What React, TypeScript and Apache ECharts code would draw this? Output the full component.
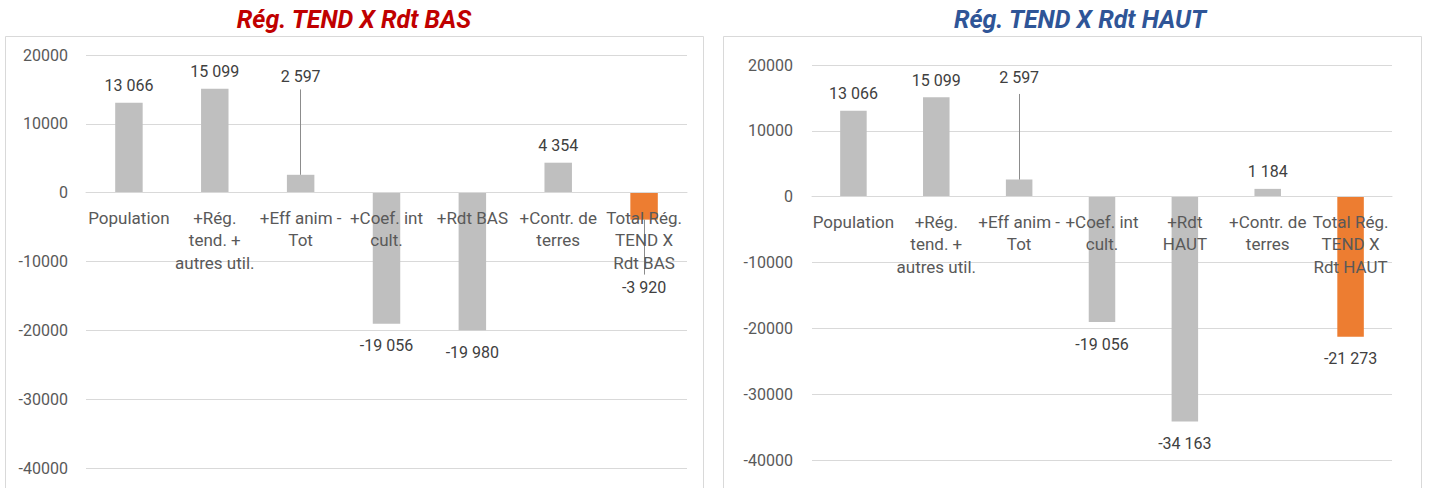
import React, { useEffect, useRef } from 'react';
import * as echarts from 'echarts';

// ---- Data ----
const categoriesLeft = [
  'Population',
  '+Rég.\ntend. +\nautres util.',
  '+Eff anim -\nTot',
  '+Coef. int\ncult.',
  '+Rdt BAS',
  '+Contr. de\nterres',
  'Total Rég.\nTEND X\nRdt BAS',
];
const categoriesRight = [
  'Population',
  '+Rég.\ntend. +\nautres util.',
  '+Eff anim -\nTot',
  '+Coef. int\ncult.',
  '+Rdt\nHAUT',
  '+Contr. de\nterres',
  'Total Rég.\nTEND X\nRdt HAUT',
];
const valuesLeft = [13066, 15099, 2597, -19056, -19980, 4354, -3920];
const valuesRight = [13066, 15099, 2597, -19056, -34163, 1184, -21273];
const titleLeft = 'Rég. TEND X Rdt BAS';
const titleRight = 'Rég. TEND X Rdt HAUT';
const yMin = -40000;
const yMax = 20000;
const yInterval = 10000;

// leader lines (moved labels): [categoryIndex, barValue, lineEndValue]
const leadersLeft = [
  [2, 2597, 15000],
  [6, -3920, -11900],
];
const leadersRight = [[2, 2597, 15600]];

// ---- Styles / layout ----
const GRAY = '#BFBFBF';
const ORANGE = '#ED7D31';
const GRID = '#D9D9D9';
const AXIS_TXT = '#595959';
const VAL_TXT = '#404040';
const FONT = 'Roboto, "DejaVu Sans", sans-serif';
const labelOffsetsLeft = [0, 0, -81, 0, 0, 0, 46];
const labelOffsetsRight = [0, 0, -85, 0, 0, 0, 0];
const gridLeft = { left: 86, top: 55, width: 601, height: 413 };
const gridRight = { left: 812, top: 65, width: 580, height: 395 };

const fmt = (v: number) => {
  const s = Math.abs(v)
    .toString()
    .replace(/\B(?=(\d{3})+(?!\d))/g, ' ');
  return (v < 0 ? '-' : '') + s;
};

// pixel distance from the bottom of the grid up to the value 0
const zeroOffset = (h: number) => -((0 - yMin) / (yMax - yMin)) * h;

function buildData(values: number[], offsets: number[]) {
  return values.map((v, i) => ({
    value: v,
    itemStyle: { color: i === values.length - 1 ? ORANGE : GRAY },
    label: {
      position: v >= 0 ? 'top' : 'bottom',
      distance: v >= 0 ? 9 : 14,
      offset: [0, offsets[i]],
    },
  }));
}

function buildLeaders(list: number[][]) {
  return list.map(([c, v, e]) => [{ coord: [c, v] }, { coord: [c, e] }]);
}

function xAxisCfg(gridIndex: number, data: string[], gridHeight: number) {
  return {
    type: 'category',
    gridIndex,
    data,
    z: 5,
    position: 'bottom',
    offset: zeroOffset(gridHeight),
    axisTick: { show: false },
    axisLine: { onZero: false, lineStyle: { color: GRID, width: 1 } },
    axisLabel: {
      interval: 0,
      color: AXIS_TXT,
      fontSize: 17,
      fontFamily: FONT,
      lineHeight: 22.5,
      margin: 14,
      hideOverlap: false,
    },
  };
}

function yAxisCfg(gridIndex: number, margin: number) {
  return {
    type: 'value',
    gridIndex,
    min: yMin,
    max: yMax,
    interval: yInterval,
    axisLine: { show: false },
    axisTick: { show: false },
    axisLabel: {
      color: AXIS_TXT,
      fontSize: 16,
      fontFamily: FONT,
      margin,
      formatter: (v: number) => String(v),
    },
    splitLine: { lineStyle: { color: GRID, width: 1 } },
  };
}

function seriesCfg(idx: number, values: number[], offsets: number[], leaders: number[][]) {
  return {
    type: 'bar',
    xAxisIndex: idx,
    yAxisIndex: idx,
    barWidth: '32%',
    data: buildData(values, offsets),
    label: {
      show: true,
      color: VAL_TXT,
      fontSize: 16,
      fontFamily: FONT,
      formatter: (p: any) => fmt(p.value),
    },
    markLine: {
      silent: true,
      symbol: 'none',
      label: { show: false },
      lineStyle: { color: '#8C8C8C', width: 1, type: 'solid' },
      data: buildLeaders(leaders),
    },
  };
}

export default function App() {
  const ref = useRef<HTMLDivElement>(null);
  useEffect(() => {
    if (!ref.current) return;
    const chart = echarts.init(ref.current, undefined, { renderer: 'svg' });
    chart.setOption({
      animation: false,
      backgroundColor: '#FFFFFF',
      grid: [
        { ...gridLeft, containLabel: false, outerBoundsMode: 'none' },
        { ...gridRight, containLabel: false, outerBoundsMode: 'none' },
      ],
      xAxis: [
        xAxisCfg(0, categoriesLeft, gridLeft.height),
        xAxisCfg(1, categoriesRight, gridRight.height),
      ],
      yAxis: [yAxisCfg(0, 18), yAxisCfg(1, 19)],
      series: [
        seriesCfg(0, valuesLeft, labelOffsetsLeft, leadersLeft),
        seriesCfg(1, valuesRight, labelOffsetsRight, leadersRight),
      ],
      graphic: [
        {
          type: 'rect',
          silent: true,
          z: -10,
          shape: { x: 5.5, y: 36.5, width: 698, height: 520 },
          style: { fill: 'none', stroke: GRID, lineWidth: 1 },
        },
        {
          type: 'rect',
          silent: true,
          z: -10,
          shape: { x: 723.5, y: 36.5, width: 698, height: 520 },
          style: { fill: 'none', stroke: GRID, lineWidth: 1 },
        },
        {
          type: 'text',
          x: 354,
          y: 19,
          style: {
            text: titleLeft,
            fill: '#C00000',
            font: 'italic bold 25px ' + FONT,
            textAlign: 'center',
            textVerticalAlign: 'middle',
          },
        },
        {
          type: 'text',
          x: 1080,
          y: 19,
          style: {
            text: titleRight,
            fill: '#2F5597',
            font: 'italic bold 25px ' + FONT,
            textAlign: 'center',
            textVerticalAlign: 'middle',
          },
        },
      ],
    });
    return () => chart.dispose();
  }, []);
  return (
    <div
      ref={ref}
      style={{ position: 'fixed', left: 0, top: 0, width: 1429, height: 488, background: '#fff' }}
    />
  );
}
